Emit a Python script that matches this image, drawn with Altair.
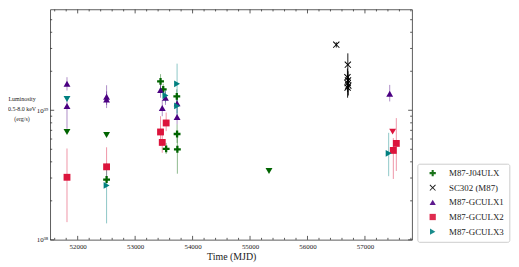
import altair as alt
import pandas as pd

SOURCES = ["M87-J04ULX", "SC302 (M87)", "M87-GCULX1", "M87-GCULX2", "M87-GCULX3"]
COLORS = ["#006400", "#000000", "#4b0082", "#dc143c", "#008080"]

# ---- detections (MJD, luminosity, error low, error high) ----
J04_MJD = [52503, 53442, 53489, 53540, 53725, 53730, 53735]
J04_L = [2.92e38, 1.67e39, 1.45e39, 5.03e38, 1.28e39, 6.56e38, 5.0e38]
J04_LO = [2.75e38, 1.45e39, 1.30e39, 4.6e38, 1.15e39, 5.6e38, 3.24e38]
J04_HI = [3.10e38, 1.90e39, 1.60e39, 5.6e38, 1.45e39, 7.8e38, 6.8e38]

SC_MJD = [56501, 56702, 56695, 56705, 56700, 56710, 56698]
SC_L = [3.21e39, 2.25e39, 1.80e39, 1.70e39, 1.62e39, 1.55e39, 1.50e39]
SC_LO = [3.05e39, 1.85e39, 1.55e39, 1.45e39, 1.38e39, 1.30e39, 1.25e39]
SC_HI = [3.35e39, 2.75e39, 2.10e39, 2.00e39, 1.90e39, 1.85e39, 1.80e39]

G1_MJD = [51814, 51814, 52503, 52503, 53442, 53528, 53472, 53730, 53730, 57431]
G1_L = [1.60e39, 1.08e39, 1.27e39, 1.21e39, 1.43e39, 1.25e39, 1.04e39, 1.13e39, 8.86e38, 1.34e39]
G1_LO = [1.42e39, 7.2e38, 1.10e39, 1.04e39, 1.25e39, 1.10e39, 9.0e38, 1.0e39, 7.8e38, 1.17e39]
G1_HI = [1.80e39, 1.25e39, 1.56e39, 1.40e39, 1.60e39, 1.40e39, 1.20e39, 1.28e39, 1.0e39, 1.57e39]

G2_MJD = [51814, 52503, 53540, 53442, 53472, 57494, 57546]
G2_L = [3.04e38, 3.66e38, 7.98e38, 6.8e38, 5.65e38, 4.9e38, 5.55e38]
G2_LO = [1.37e38, 3.0e38, 6.9e38, 5.3e38, 4.7e38, 2.95e38, 3.4e38]
G2_HI = [5.07e38, 5.18e38, 9.6e38, 9.0e38, 6.8e38, 6.1e38, 8.7e38]

G3_MJD = [52503, 53528, 53730, 53730, 57413]
G3_L = [2.63e38, 1.30e39, 1.60e39, 1.08e39, 4.65e38]
G3_LO = [1.34e38, 1.15e39, 0.90e39, 0.95e39, 3.1e38]
G3_HI = [3.9e38, 1.45e39, 2.29e39, 1.22e39, 6.7e38]

# ---- upper limits ----
UL_SRC = ["M87-J04ULX", "M87-J04ULX", "M87-J04ULX", "M87-GCULX3", "M87-GCULX2"]
UL_MJD = [51814, 52503, 55330, 51814, 57482]
UL_L = [6.8e38, 6.45e38, 3.4e38, 1.22e39, 6.84e38]

# ---- axis ticks ----
X_MAJOR = [52000, 53000, 54000, 55000, 56000, 57000]
X_MINOR = [51600, 51800, 52200, 52400, 52600, 52800, 53200, 53400, 53600, 53800,
           54200, 54400, 54600, 54800, 55200, 55400, 55600, 55800, 56200, 56400,
           56600, 56800, 57200, 57400, 57600, 57800]
Y_MAJOR = [1e38, 1e39]
Y_MINOR = [2e38, 3e38, 4e38, 5e38, 6e38, 7e38, 8e38, 9e38, 2e39, 3e39, 4e39, 5e39]

rows = []
for src, m, l, lo, hi in [
    (SOURCES[0], J04_MJD, J04_L, J04_LO, J04_HI),
    (SOURCES[1], SC_MJD, SC_L, SC_LO, SC_HI),
    (SOURCES[2], G1_MJD, G1_L, G1_LO, G1_HI),
    (SOURCES[3], G2_MJD, G2_L, G2_LO, G2_HI),
    (SOURCES[4], G3_MJD, G3_L, G3_LO, G3_HI),
]:
    for a, b, c, d in zip(m, l, lo, hi):
        rows.append({"source": src, "mjd": a, "lum": b, "lo": c, "hi": d})
det = pd.DataFrame(rows)
ul = pd.DataFrame({"source": UL_SRC, "mjd": UL_MJD, "lum": UL_L})

W, H = 366, 233
FONT = "Liberation Serif"

PLUS = ("M-0.333,-1L0.333,-1L0.333,-0.333L1,-0.333L1,0.333L0.333,0.333L0.333,1"
        "L-0.333,1L-0.333,0.333L-1,0.333L-1,-0.333L-0.333,-0.333Z")
XMARK = ("M-1,-0.8L-0.8,-1L0,-0.2L0.8,-1L1,-0.8L0.2,0L1,0.8L0.8,1L0,0.2"
         "L-0.8,1L-1,0.8L-0.2,0Z")
SHAPES = [PLUS, XMARK, "triangle-up", "square", "triangle-right"]

xs = alt.Scale(domain=[51522, 57821], nice=False, zero=False)
ys = alt.Scale(type="log", domain=[1e38, 6e39], nice=False)
cs = alt.Scale(domain=SOURCES, range=COLORS)
LEG = alt.Legend(title=None)

xaxis = alt.Axis(values=X_MAJOR, format="d", ticks=False, tickSize=0, domain=False,
                 grid=False, labelFont=FONT, labelFontSize=7, labelColor="#222",
                 labelPadding=3, title="Time (MJD)", titleFont=FONT,
                 titleFontSize=10, titleFontWeight="normal", titleColor="#222",
                 titleBaseline="alphabetic", titleY=20)
yaxis = alt.Axis(values=Y_MAJOR, ticks=False, tickSize=0, domain=False, grid=False,
                 labelExpr="datum.value < 5e38 ? '10³⁸' : '10³⁹'",
                 labelFont=FONT, labelFontSize=7, labelColor="#222", labelPadding=2.5,
                 title=["Luminosity", "0.5-8.0 keV", "(erg/s)"], titleFont=FONT,
                 titleFontSize=6, titleFontWeight="normal", titleColor="#222",
                 titleAngle=0, titleAlign="center", titleBaseline="middle",
                 titleX=-29, titleY=90, titleLineHeight=10)

X = lambda f: alt.X(f, scale=xs, axis=xaxis)
Y = lambda f: alt.Y(f, scale=ys, axis=yaxis)
C = alt.Color("source:N", scale=cs, legend=LEG)

err = alt.Chart(det).mark_rule(strokeWidth=1).encode(
    x=X("mjd:Q"), y=Y("lo:Q"), y2="hi:Q", color=C,
    opacity=alt.condition(alt.datum.source == "SC302 (M87)", alt.value(0.9), alt.value(0.45)),
)

pts = alt.Chart(det).mark_point(filled=True, size=48, opacity=1, strokeWidth=0).encode(
    x=X("mjd:Q"), y=Y("lum:Q"), color=C,
    shape=alt.Shape("source:N", scale=alt.Scale(domain=SOURCES, range=SHAPES), legend=LEG),
)

ulp = alt.Chart(ul).mark_point(filled=True, size=48, opacity=1, strokeWidth=0,
                               shape="triangle-down").encode(
    x=X("mjd:Q"), y=Y("lum:Q"), color=C,
)

TK = dict(color="#333", strokeWidth=0.8)

def xt(vals, ln):
    d = pd.DataFrame({"v": vals})
    b = alt.Chart(d).mark_rule(**TK).encode(x=X("v:Q"), y=alt.value(H), y2=alt.value(H - ln))
    t = alt.Chart(d).mark_rule(**TK).encode(x=X("v:Q"), y=alt.value(0), y2=alt.value(ln))
    return [b, t]

def yt(vals, ln):
    d = pd.DataFrame({"v": vals})
    l = alt.Chart(d).mark_rule(**TK).encode(y=Y("v:Q"), x=alt.value(0), x2=alt.value(ln))
    r = alt.Chart(d).mark_rule(**TK).encode(y=Y("v:Q"), x=alt.value(W - ln), x2=alt.value(W))
    return [l, r]

ticks = xt(X_MAJOR, 4) + xt(X_MINOR, 2) + yt(Y_MAJOR, 4) + yt(Y_MINOR, 2)

chart = alt.layer(err, pts, ulp, *ticks).properties(
    width=W, height=H,
    autosize=alt.AutoSizeParams(type="none"),
    padding={"left": 42.7, "top": 0, "right": 100, "bottom": 26},
).configure_view(
    stroke="#333", strokeWidth=0.8
).configure_legend(
    orient="none", legendX=371.3, legendY=156, padding=5,
    strokeColor="#cccccc", fillColor="white", cornerRadius=2,
    labelFont=FONT, labelFontSize=9, labelColor="#222",
    symbolSize=40, symbolOffset=6, labelOffset=12, rowPadding=4.8,
    symbolStrokeWidth=0,
)

chart.save("out.html", embed_options={"renderer": "svg", "actions": False})
